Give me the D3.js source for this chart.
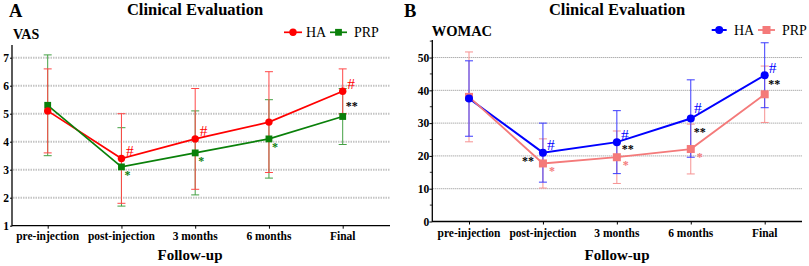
<!DOCTYPE html>
<html>
<head>
<meta charset="utf-8">
<script src="https://cdn.jsdelivr.net/npm/d3@7"></script>
<style>
  body { margin: 0; background: #fff; }
  svg { display: block; }
  text { font-family: "Liberation Serif", "Times New Roman", serif; }
</style>
</head>
<body>
<svg id="chart" width="809" height="266"></svg>
<script>
// ---- data ----
const categories = ["pre-injection", "post-injection", "3 months", "6 months", "Final"];

const vasHA = [5.1, 3.4, 4.1, 4.7, 5.8];
const vasHASd = [1.5, 1.6, 1.8, 1.8, 0.8];
const vasPRP = [5.3, 3.1, 3.6, 4.1, 4.9];
const vasPRPSd = [1.8, 1.4, 1.5, 1.4, 1.0];
const vasTicks = [1, 2, 3, 4, 5, 6, 7];

const womacHA = [37.5, 21.0, 24.2, 31.4, 44.6];
const womacHASd = [11.5, 9.0, 9.6, 11.8, 9.9];
const womacPRP = [38.0, 17.7, 19.6, 22.1, 38.8];
const womacPRPSd = [13.7, 7.5, 8.0, 7.6, 8.6];
const womacTicks = [0, 10, 20, 30, 40, 50];

// significance marks: [series, category index, text]
const vasMarks = [
  ["HA", 1, "#"], ["HA", 2, "#"], ["HA", 4, "#"],
  ["PRP", 1, "*"], ["PRP", 2, "*"], ["PRP", 3, "*"],
  ["both", 4, "**"]
];
const womacMarks = [
  ["HA", 1, "#"], ["HA", 2, "#"], ["HA", 3, "#"], ["HA", 4, "#"],
  ["PRP", 1, "*"], ["PRP", 2, "*"], ["PRP", 3, "*"],
  ["both", 1, "**"], ["both", 2, "**"], ["both", 3, "**"], ["both", 4, "**"]
];

// ---- layout / styling ----
const svg = d3.select("#chart");

const panels = [
  {
    letter: "A", letterX: 9, title: "Clinical Evaluation", titleX: 195,
    yLabel: "VAS", yLabelX: 13, yLabelY: 39.3, yLabelSize: 14,
    axisX: 12, axisRight: 390, axisTop: 45,
    xRange: [47.7, 342.7], yDomain: [1, 7.45], yRange: [225.7, 45.1],
    ticks: vasTicks, minor: [], tickSize: 2, tickPad: 1,
    catY: 240, xTitleX: 190,
    grid: { color: "#c4c4c4", width: 2, dash: "1.5,1" },
    series: [
      { name: "HA", values: vasHA, sd: vasHASd, color: "#ff0000", errColor: "#ff4848", shape: "circle", size: 3.7, lineW: 1.7 },
      { name: "PRP", values: vasPRP, sd: vasPRPSd, color: "#0a800a", errColor: "#44a044", shape: "square", size: 6.8, lineW: 1.7 }
    ],
    legend: { y: 32.3, items: [{ x0: 284, x1: 302, tx: 306 }, { x0: 330, x1: 347, tx: 354 }] },
    marks: vasMarks,
    markPos: {
      HA: { dx: 8.5, dy: -8, size: 15.5 },
      PRP: { dx: 6, dy: 8.5, size: 12 },
      both: { dx: 9, dy: 15, size: 12 }
    }
  },
  {
    letter: "B", letterX: 404, title: "Clinical Evaluation", titleX: 617,
    yLabel: "WOMAC", yLabelX: 431.7, yLabelY: 36, yLabelSize: 14.5,
    axisX: 432.3, axisRight: 802, axisTop: 40,
    xRange: [469, 764.7], yDomain: [0, 55.5], yRange: [221.5, 39.5],
    ticks: womacTicks, minor: [5, 15, 25, 35, 45, 55], tickSize: 3, tickPad: 0,
    catY: 237, xTitleX: 617,
    grid: { color: "#8c8c8c", width: 1, dash: "1,1" },
    series: [
      { name: "HA", values: womacHA, sd: womacHASd, color: "#0000ff", errColor: "#3b3bff", shape: "circle", size: 4, lineW: 2 },
      { name: "PRP", values: womacPRP, sd: womacPRPSd, color: "#f47a7a", errColor: "#f69292", shape: "square", size: 8, lineW: 1.8 }
    ],
    legend: { y: 30, items: [{ x0: 711.7, x1: 726.7, tx: 734 }, { x0: 758, x1: 775, tx: 782 }] },
    marks: womacMarks,
    markPos: {
      HA: { dx: 8, dy: -8, size: 15.5 },
      PRP: { dx: 9, dy: 7.5, size: 12 },
      both: { dx: 10, dy: 8, size: 12 }
    }
  }
];

// per-mark overrides where the picture shifts a mark
const markNudge = {
  "B-both-1": { dx: -15, dy: 8.5, ref: "HA" },
  "B-both-2": { dx: 11, dy: 6.5, ref: "HA" },
  "B-both-3": { dx: 9, dy: 13.5, ref: "HA" },
  "B-both-4": { dx: 9.5, dy: 8.5, ref: "HA" },
  "B-HA-3": { dx: 7, dy: -11 },
  "A-both-4": { dx: 9, dy: 15, ref: "HA" }
};

function drawPanel(p) {
  const g = svg.append("g");
  const x = d3.scalePoint().domain(categories).range(p.xRange);
  const y = d3.scaleLinear().domain(p.yDomain).range(p.yRange);
  const yBase = p.yRange[0];

  // grid
  g.append("g").selectAll("line")
    .data(p.ticks.filter(t => t > p.yDomain[0]))
    .join("line")
    .attr("x1", p.axisX + 1).attr("x2", p.axisRight)
    .attr("y1", d => y(d)).attr("y2", d => y(d))
    .attr("stroke", p.grid.color)
    .attr("stroke-width", p.grid.width)
    .attr("stroke-dasharray", p.grid.dash);

  // y axis
  const yAxis = d3.axisLeft(y).tickValues(p.ticks).tickSize(p.tickSize).tickPadding(p.tickPad).tickFormat(d3.format("d"));
  const ya = g.append("g").attr("transform", `translate(${p.axisX},0)`).call(yAxis);
  ya.select(".domain").remove();
  ya.selectAll("line").attr("stroke", "#000").attr("stroke-width", 1);
  ya.selectAll("text")
    .attr("font-family", "'Liberation Serif', serif")
    .attr("font-weight", "bold")
    .attr("font-size", 11.5)
    .attr("fill", "#000");
  if (p.minor.length) {
    g.append("g").selectAll("line").data(p.minor.filter(m => m < p.yDomain[1])).join("line")
      .attr("x1", p.axisX - 2.5).attr("x2", p.axisX)
      .attr("y1", d => y(d)).attr("y2", d => y(d))
      .attr("stroke", "#000").attr("stroke-width", 0.8);
  }
  g.append("line")
    .attr("x1", p.axisX).attr("x2", p.axisX)
    .attr("y1", p.axisTop).attr("y2", yBase + 0.5)
    .attr("stroke", "#000").attr("stroke-width", 1.3);

  // x axis
  const xAxis = d3.axisBottom(x).tickSize(3).tickPadding(0).tickFormat(() => "");
  const xa = g.append("g").attr("transform", `translate(0,${yBase})`).call(xAxis);
  xa.select(".domain").remove();
  xa.selectAll("line").attr("stroke", "#000");
  g.append("line")
    .attr("x1", p.axisX).attr("x2", p.axisRight)
    .attr("y1", yBase).attr("y2", yBase)
    .attr("stroke", "#000").attr("stroke-width", 1.3);
  g.append("g").selectAll("text").data(categories).join("text")
    .attr("x", d => x(d)).attr("y", p.catY)
    .attr("text-anchor", "middle")
    .attr("font-weight", "bold").attr("font-size", 11.5)
    .text(d => d);

  g.append("text")
    .attr("x", p.xTitleX).attr("y", 260)
    .attr("text-anchor", "middle")
    .attr("font-weight", "bold").attr("font-size", 15)
    .text("Follow-up");

  // titles
  g.append("text")
    .attr("x", p.titleX).attr("y", 14.5)
    .attr("text-anchor", "middle")
    .attr("font-weight", "bold").attr("font-size", 16.5)
    .text(p.title);
  g.append("text")
    .attr("x", p.letterX).attr("y", 16.7)
    .attr("font-family", "'Liberation Sans', Arial, sans-serif")
    .attr("font-weight", "bold").attr("font-size", 18.5)
    .text(p.letter);
  g.append("text")
    .attr("x", p.yLabelX).attr("y", p.yLabelY)
    .attr("font-weight", "bold").attr("font-size", p.yLabelSize)
    .text(p.yLabel);

  // error bars (second series first so the first sits on top)
  p.series.slice().reverse().forEach(s => {
    const eg = g.append("g")
      .attr("stroke", s.errColor).attr("stroke-width", 1);
    categories.forEach((c, i) => {
      const cx = x(c);
      const lo = y(s.values[i] - s.sd[i]);
      const hi = y(s.values[i] + s.sd[i]);
      eg.append("line").attr("x1", cx).attr("x2", cx).attr("y1", lo).attr("y2", hi);
      [lo, hi].forEach(v => eg.append("line").attr("x1", cx - 4).attr("x2", cx + 4).attr("y1", v).attr("y2", v));
    });
  });

  // lines + markers
  const line = d3.line().x((d, i) => x(categories[i])).y(d => y(d));
  p.series.forEach(s => {
    g.append("path").datum(s.values)
      .attr("fill", "none").attr("stroke", s.color).attr("stroke-width", s.lineW)
      .attr("d", line);
  });
  p.series.slice().reverse().forEach(s => {
    const mg = g.append("g").attr("fill", s.color);
    s.values.forEach((v, i) => addMarker(mg, s, x(categories[i]), y(v)));
  });

  // legend
  p.series.forEach((s, k) => {
    const it = p.legend.items[k];
    g.append("line")
      .attr("x1", it.x0).attr("x2", it.x1)
      .attr("y1", p.legend.y).attr("y2", p.legend.y)
      .attr("stroke", s.color).attr("stroke-width", s.lineW);
    addMarker(g.append("g").attr("fill", s.color), s, (it.x0 + it.x1) / 2, p.legend.y);
    g.append("text")
      .attr("x", it.tx).attr("y", p.legend.y + 4.5)
      .attr("font-size", 14)
      .text(s.name);
  });

  // significance marks
  p.marks.forEach(([ser, i, txt]) => {
    const key = `${p.letter}-${ser}-${i}`;
    const base = p.markPos[ser];
    const nudge = markNudge[key] || {};
    const refName = nudge.ref || (ser === "both" ? "HA" : ser);
    const s = p.series.find(d => d.name === refName);
    const color = ser === "both" ? "#000" : p.series.find(d => d.name === ser).color;
    const dx = nudge.dx !== undefined ? nudge.dx : base.dx;
    const dy = nudge.dy !== undefined ? nudge.dy : base.dy;
    g.append("text")
      .attr("x", x(categories[i]) + dx)
      .attr("y", y(s.values[i]) + dy)
      .attr("text-anchor", "middle")
      .attr("dominant-baseline", "central")
      .attr("font-size", base.size)
      .attr("font-weight", ser === "HA" ? "normal" : "bold")
      .attr("fill", color)
      .text(txt);
  });
}

function addMarker(g, s, cx, cy) {
  if (s.shape === "circle") {
    g.append("circle").attr("cx", cx).attr("cy", cy).attr("r", s.size);
  } else {
    g.append("rect")
      .attr("x", cx - s.size / 2).attr("y", cy - s.size / 2)
      .attr("width", s.size).attr("height", s.size);
  }
}

panels.forEach(drawPanel);
</script>
</body>
</html>
